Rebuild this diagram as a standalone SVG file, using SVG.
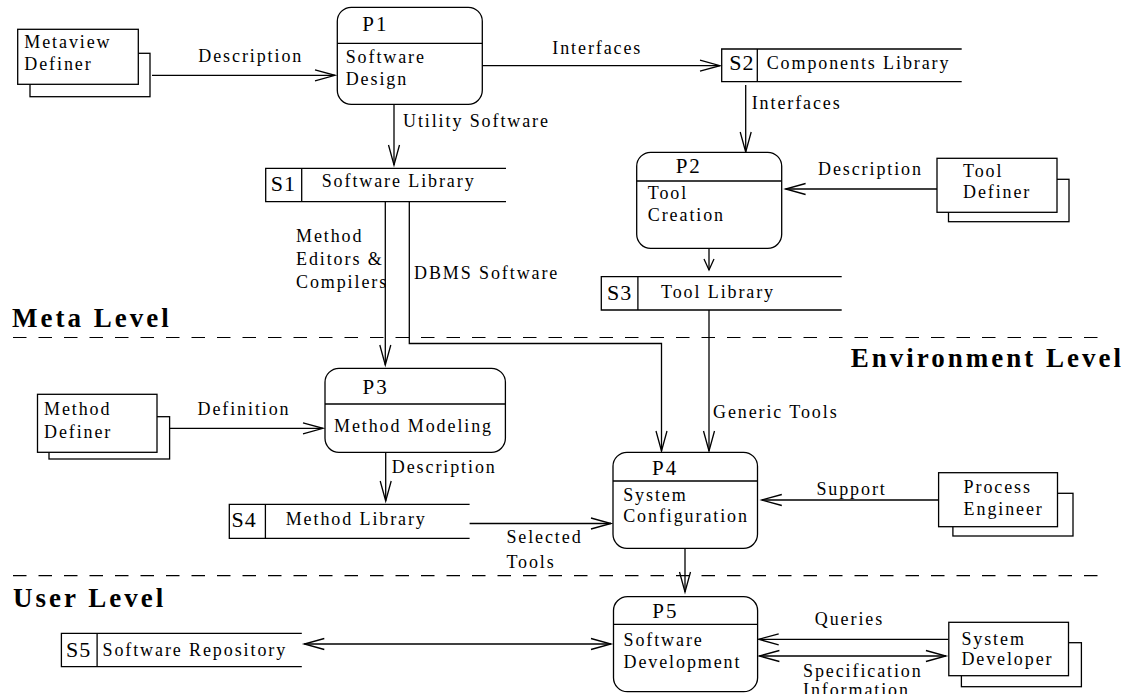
<svg xmlns="http://www.w3.org/2000/svg" width="1139" height="694" viewBox="0 0 1139 694" font-family="'Liberation Serif', 'Times New Roman', serif">
  <style>
    .t { font-family: 'Liberation Serif', 'Times New Roman', serif; font-size: 18px; letter-spacing: 1.9px; }
    .pid { font-family: 'Liberation Serif', 'Times New Roman', serif; font-size: 21px; letter-spacing: 2px; }
    .sid { font-family: 'Liberation Serif', 'Times New Roman', serif; font-size: 22px; letter-spacing: 1px; }
    .lvl { font-family: 'Liberation Serif', 'Times New Roman', serif; font-size: 27px; font-weight: bold; letter-spacing: 3px; }
    .box { fill: #fff; stroke: #000; stroke-width: 1.3; }
    .ln { fill: none; stroke: #000; stroke-width: 1.3; }
    .flow { fill: none; stroke: #000; stroke-width: 1.3; marker-end: url(#arr); }
    .flow2 { fill: none; stroke: #000; stroke-width: 1.3; marker-start: url(#arr); marker-end: url(#arr); }
    .dash { fill: none; stroke: #000; stroke-width: 1.2; stroke-dasharray: 13.5 12; }
  </style>
  <defs>
    <marker id="arr" viewBox="0 0 21 12" refX="20.5" refY="6" markerWidth="21" markerHeight="12" markerUnits="userSpaceOnUse" orient="auto-start-reverse" overflow="visible">
      <path d="M0.5,0.5 L20.5,6 L0.5,11.5" fill="none" stroke="#000" stroke-width="1.3"/>
    </marker>
    <marker id="arrs" viewBox="0 0 12 11" refX="11.5" refY="5.5" markerWidth="12" markerHeight="11" markerUnits="userSpaceOnUse" orient="auto" overflow="visible">
      <path d="M0.5,0.5 L11.5,5.5 L0.5,10.5" fill="none" stroke="#000" stroke-width="1.3"/>
    </marker>
  </defs>
  <rect width="1139" height="694" fill="#fff"/>

  <!-- level separators and titles -->
  <g id="levels">
    <line class="dash" x1="13" y1="337.5" x2="1106" y2="337.5"/>
    <line class="dash" x1="13" y1="575.7" x2="1106" y2="575.7"/>
    <text class="lvl" x="12" y="327">Meta Level</text>
    <text class="lvl" x="1124" y="366.7" text-anchor="end">Environment Level</text>
    <text class="lvl" x="13" y="606.7">User Level</text>
  </g>

  <!-- data flows -->
  <g id="connectors">
    <path class="flow" d="M152,75.3 H335"/>
    <path class="flow" d="M482.3,65.7 H720"/>
    <path class="flow" d="M394,104.3 V165"/>
    <path class="flow" d="M745.7,85 V152"/>
    <path class="flow" d="M937,189 H785.6"/>
    <path class="ln" d="M709,248.3 V270" marker-end="url(#arrs)"/>
    <path class="flow" d="M385.3,201.7 V365"/>
    <path class="flow" d="M409.3,201.7 V343.5 H661.5 V451"/>
    <path class="flow" d="M709,310 V451"/>
    <path class="flow" d="M169.6,428.3 H323"/>
    <path class="flow" d="M385.7,452.3 V501"/>
    <path class="flow" d="M469.6,523.5 H611"/>
    <path class="flow" d="M938.6,500 H761.8"/>
    <path class="flow" d="M685,548.3 V592"/>
    <path class="flow2" d="M304.3,644 H611"/>
    <path class="flow" d="M948.5,639.3 H758.7"/>
    <path class="flow2" d="M759.4,656 H945.9"/>

    <text class="t" x="198.3" y="61.7">Description</text>
    <text class="t" x="552.3" y="54.3">Interfaces</text>
    <text class="t" x="403" y="127">Utility Software</text>
    <text class="t" x="751.7" y="108.5">Interfaces</text>
    <text class="t" x="818" y="175">Description</text>
    <text class="t" x="296" y="241.7">Method</text>
    <text class="t" x="296" y="265">Editors &amp;</text>
    <text class="t" x="296" y="287.7">Compilers</text>
    <text class="t" x="414" y="279">DBMS Software</text>
    <text class="t" x="713" y="418">Generic Tools</text>
    <text class="t" x="197.5" y="415">Definition</text>
    <text class="t" x="391.8" y="473.3">Description</text>
    <text class="t" x="506.4" y="543.3">Selected</text>
    <text class="t" x="506.4" y="568">Tools</text>
    <text class="t" x="816.4" y="495">Support</text>
    <text class="t" x="814.8" y="625">Queries</text>
    <text class="t" x="803" y="676.7">Specification</text>
    <text class="t" x="803" y="696">Information</text>
  </g>

  <!-- external entities -->
  <g id="metaview-definer">
    <rect class="box" x="30" y="53.3" width="120" height="43.4"/>
    <rect class="box" x="17.7" y="29.3" width="120.6" height="55"/>
    <text class="t" x="24.3" y="48">Metaview</text>
    <text class="t" x="24.3" y="70">Definer</text>
  </g>
  <g id="tool-definer">
    <rect class="box" x="948.5" y="179.3" width="120.5" height="42.4"/>
    <rect class="box" x="937" y="158.3" width="120" height="54"/>
    <text class="t" x="963" y="176.7">Tool</text>
    <text class="t" x="963" y="198.3">Definer</text>
  </g>
  <g id="method-definer">
    <rect class="box" x="49" y="416.7" width="120.6" height="42.3"/>
    <rect class="box" x="37.5" y="394.3" width="119.5" height="58"/>
    <text class="t" x="44" y="415">Method</text>
    <text class="t" x="44" y="438">Definer</text>
  </g>
  <g id="process-engineer">
    <rect class="box" x="952.9" y="493.3" width="120.1" height="42.7"/>
    <rect class="box" x="938.6" y="472.7" width="118.9" height="54"/>
    <text class="t" x="963.6" y="493.3">Process</text>
    <text class="t" x="963.6" y="515">Engineer</text>
  </g>
  <g id="system-developer">
    <rect class="box" x="961.4" y="642.7" width="120" height="44"/>
    <rect class="box" x="948.8" y="622.3" width="119.7" height="53.4"/>
    <text class="t" x="961.4" y="645">System</text>
    <text class="t" x="961.4" y="665">Developer</text>
  </g>

  <!-- processes -->
  <g id="p1">
    <rect class="box" x="337.3" y="7.3" width="145" height="97" rx="14"/>
    <line class="ln" x1="337.3" y1="43.3" x2="482.3" y2="43.3"/>
    <text class="pid" x="362.3" y="31">P1</text>
    <text class="t" x="345.7" y="63.3">Software</text>
    <text class="t" x="345.7" y="85">Design</text>
  </g>
  <g id="p2">
    <rect class="box" x="636.7" y="152.3" width="145" height="96" rx="14"/>
    <line class="ln" x1="636.7" y1="181" x2="781.7" y2="181"/>
    <text class="pid" x="675.7" y="172.7">P2</text>
    <text class="t" x="647.8" y="199.3">Tool</text>
    <text class="t" x="647.8" y="221">Creation</text>
  </g>
  <g id="p3">
    <rect class="box" x="325" y="368.3" width="180.4" height="84" rx="14"/>
    <line class="ln" x1="325" y1="404" x2="505.4" y2="404"/>
    <text class="pid" x="362.5" y="394">P3</text>
    <text class="t" x="334" y="431.7">Method Modeling</text>
  </g>
  <g id="p4">
    <rect class="box" x="613" y="452.3" width="144.5" height="96" rx="14"/>
    <line class="ln" x1="613" y1="481" x2="757.5" y2="481"/>
    <text class="pid" x="652" y="475">P4</text>
    <text class="t" x="623.2" y="500.7">System</text>
    <text class="t" x="623.2" y="522">Configuration</text>
  </g>
  <g id="p5">
    <rect class="box" x="613.5" y="596.7" width="144.1" height="95" rx="14"/>
    <line class="ln" x1="613.5" y1="624.3" x2="757.6" y2="624.3"/>
    <text class="pid" x="652.3" y="618.3">P5</text>
    <text class="t" x="623.5" y="646">Software</text>
    <text class="t" x="623.5" y="668.3">Development</text>
  </g>

  <!-- data stores -->
  <g id="s1">
    <path class="ln" d="M506,168.3 H265.7 V201.7 H506 M301.7,168.3 V201.7"/>
    <text class="sid" x="270.7" y="190.7">S1</text>
    <text class="t" x="321.7" y="187.3">Software Library</text>
  </g>
  <g id="s2">
    <path class="ln" d="M961.7,49 H721.7 V81.7 H961.7 M757.3,49 V81.7"/>
    <text class="sid" x="729.3" y="70">S2</text>
    <text class="t" x="766.7" y="68.5" letter-spacing="2.2">Components Library</text>
  </g>
  <g id="s3">
    <path class="ln" d="M841.7,276.7 H601.3 V310 H841.7 M637.9,276.7 V310"/>
    <text class="sid" x="607" y="300">S3</text>
    <text class="t" x="661" y="298.3">Tool Library</text>
  </g>
  <g id="s4">
    <path class="ln" d="M469.6,504.3 H229.3 V538.3 H469.6 M265.4,504.3 V538.3"/>
    <text class="sid" x="231.4" y="526.7">S4</text>
    <text class="t" x="285.7" y="525">Method Library</text>
  </g>
  <g id="s5">
    <path class="ln" d="M301.8,633.3 H61.4 V666.7 H301.8 M97.1,633.3 V666.7"/>
    <text class="sid" x="66" y="657.3">S5</text>
    <text class="t" x="102.5" y="656">Software Repository</text>
  </g>
</svg>
